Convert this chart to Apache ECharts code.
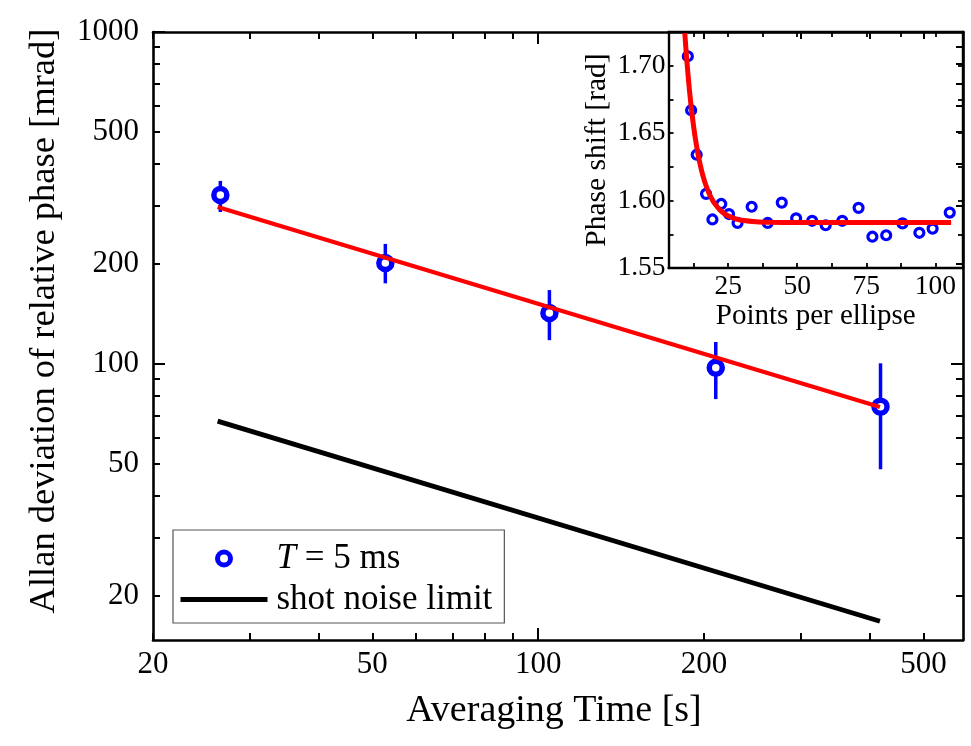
<!DOCTYPE html>
<html>
<head>
<meta charset="utf-8">
<script src="https://cdn.jsdelivr.net/npm/echarts@6/dist/echarts.min.js"></script>
<style>html,body{margin:0;padding:0;background:#fff}#c{width:971px;height:746px}</style>
</head>
<body>
<div id="c"></div>
<script>
// ---- main plot data ----
const avgTime = [26.5, 52.8, 104.8, 210, 418];
const allanDev = [323, 201.5, 142.4, 97.5, 74.4];
const errLow = [287, 175, 118, 78.4, 48.2];
const errHigh = [356, 230, 167, 116.5, 100.5];
const fitTime = [26.2, 417];
const fitDev = [297, 74.2];
const shotTime = [26.2, 417];
const shotDev = [67.3, 16.8];
// ---- main axis ticks ----
const xLabelVals = [20, 50, 100, 200, 500];
const xMinorTicks = [20, 30, 40, 50, 60, 70, 80, 90, 100, 200, 300, 400, 500];
const xMajorTicks = [100];
const yLabelVals = [20, 50, 100, 200, 500, 1000];
const yMinorTicks = [20, 30, 40, 50, 60, 70, 80, 90, 100, 200, 300, 400, 500, 600, 700, 800, 900, 1000];
const yMajorTicks = [100, 1000];
// ---- inset data ----
const ptsPerEllipse = [10.4, 11.6, 13.6, 17.0, 19.3, 22.5, 25.3, 28.4, 33.5, 39.3, 44.4, 49.6, 55.4, 60.3, 66.3, 72.2, 77.2, 82.2, 88.1, 94.2, 99.0, 105.2];
const phaseShift = [1.707, 1.667, 1.634, 1.605, 1.586, 1.5975, 1.590, 1.5834, 1.5954, 1.5834, 1.5985, 1.5868, 1.5850, 1.5817, 1.5850, 1.5946, 1.5732, 1.5743, 1.5831, 1.5761, 1.5792, 1.5911];
const curveX = [9.3, 10, 11, 12, 13, 14, 15, 16, 17, 18, 19, 20, 22, 24, 26, 28, 30, 35, 40, 50, 105.7];
const curveY = [1.7242, 1.7047, 1.6815, 1.6628, 1.6476, 1.6354, 1.6255, 1.6174, 1.6110, 1.6057, 1.6015, 1.5981, 1.5931, 1.5898, 1.5877, 1.5863, 1.5854, 1.5843, 1.5839, 1.5837, 1.5837];
const insetXLabels = [25, 50, 75, 100];
const insetXTicks = [12.5, 25, 37.5, 50, 62.5, 75, 87.5, 100];
const insetYLabels = [1.55, 1.60, 1.65, 1.70];
const insetYTicks = [1.55, 1.575, 1.60, 1.625, 1.65, 1.675, 1.70, 1.725];

const FONT = "'Liberation Serif', 'Times New Roman', serif";
const BLUE = '#0000ff', RED = '#ff0000';

function zip(a, b) { return a.map((v, i) => [v, b[i]]); }

function logAxis(dim, opt) {
  const isX = dim === 'x';
  const base = {
    type: 'log', logBase: 10,
    gridIndex: 0,
    min: isX ? 20 : 14.75,
    max: isX ? 590 : 1000,
    splitLine: { show: false },
    axisLine: { show: opt.line, lineStyle: { color: '#000', width: 2.6 } },
    axisTick: { show: true, inside: true, length: opt.tickLen, customValues: opt.ticks,
      lineStyle: { color: '#000', width: 2 } },
    axisLabel: { show: !!opt.labels, customValues: opt.labels || [], color: '#000',
      fontFamily: FONT, fontSize: 31, margin: isX ? 9 : 14, formatter: v => String(v) },
    position: opt.position,
    z: 5
  };
  if (opt.name) Object.assign(base, opt.name);
  return base;
}

function insetAxis(dim, opt) {
  const isX = dim === 'x';
  const base = {
    type: 'value', gridIndex: 1,
    min: isX ? 3.4 : 1.55,
    max: isX ? 110 : 1.725,
    splitLine: { show: false },
    axisLine: { show: true, lineStyle: { color: '#000', width: 2.4 } },
    axisTick: { show: true, inside: true, length: 5, customValues: isX ? insetXTicks : insetYTicks,
      lineStyle: { color: '#000', width: 1.8 } },
    axisLabel: { show: !!opt.labels, customValues: isX ? insetXLabels : insetYLabels, color: '#000',
      fontFamily: FONT, fontSize: 27.5, margin: isX ? 5 : 3,
      formatter: v => isX ? String(v) : Number(v).toFixed(2) },
    position: opt.position,
    z: 6
  };
  if (opt.name) Object.assign(base, opt.name);
  return base;
}

const chart = echarts.init(document.getElementById('c'), null, { renderer: 'canvas' });

const option = {
  backgroundColor: '#fff',
  animation: false,
  grid: [
    { left: 153, top: 32, right: 8, bottom: 106, outerBoundsMode: 'none', containLabel: false },
    { left: 668.5, top: 32, right: 8, bottom: 478, outerBoundsMode: 'none', containLabel: false,
      show: true, backgroundColor: '#fff', borderWidth: 0, z: 4 }
  ],
  xAxis: [
    logAxis('x', { line: true, tickLen: 7, ticks: xMinorTicks, labels: xLabelVals, position: 'bottom',
      name: { name: 'Averaging Time [s]', nameLocation: 'middle', nameGap: 52,
        nameTextStyle: { fontFamily: FONT, fontSize: 38, color: '#000', padding: [0, 8, 0, 0] } } }),
    logAxis('x', { line: false, tickLen: 12, ticks: xMajorTicks, position: 'bottom' }),
    logAxis('x', { line: true, tickLen: 7, ticks: xMinorTicks, position: 'top' }),
    logAxis('x', { line: false, tickLen: 12, ticks: xMajorTicks, position: 'top' }),
    insetAxis('x', { labels: true, position: 'bottom',
      name: { name: 'Points per ellipse', nameLocation: 'middle', nameGap: 34,
        nameTextStyle: { fontFamily: FONT, fontSize: 29, color: '#000' } } }),
    insetAxis('x', { labels: false, position: 'top' })
  ],
  yAxis: [
    logAxis('y', { line: true, tickLen: 7, ticks: yMinorTicks, labels: yLabelVals, position: 'left',
      name: { name: 'Allan deviation of relative phase [mrad]', nameLocation: 'middle', nameGap: 90,
        nameTextStyle: { fontFamily: FONT, fontSize: 36.5, color: '#000', padding: [0, 0, 0, 30] } } }),
    logAxis('y', { line: false, tickLen: 12, ticks: yMajorTicks, position: 'left' }),
    logAxis('y', { line: true, tickLen: 7, ticks: yMinorTicks, position: 'right' }),
    logAxis('y', { line: false, tickLen: 12, ticks: yMajorTicks, position: 'right' }),
    insetAxis('y', { labels: true, position: 'left',
      name: { name: 'Phase shift [rad]', nameLocation: 'middle', nameGap: 56,
        nameTextStyle: { fontFamily: FONT, fontSize: 29.5, color: '#000' } } }),
    insetAxis('y', { labels: false, position: 'right' })
  ],
  legend: {
    show: true,
    orient: 'vertical',
    left: 173, top: 530,
    padding: [11, 12, 6, 5],
    itemGap: 6,
    itemWidth: 87, itemHeight: 13,
    borderColor: '#555', borderWidth: 1.2, backgroundColor: '#fff',
    data: [
      { name: 'T = 5 ms', itemStyle: { color: '#fff', borderColor: BLUE, borderWidth: 5 } },
      { name: 'shot noise limit', itemStyle: { opacity: 0 }, lineStyle: { color: '#000', width: 5 } }
    ],
    formatter: n => n === 'T = 5 ms' ? '{i|T} = 5 ms' : n,
    textStyle: {
      fontFamily: FONT, fontSize: 35, color: '#000', padding: [0, 0, 0, 4],
      rich: { i: { fontFamily: FONT, fontSize: 35, fontStyle: 'italic', color: '#000' } }
    },
    z: 10
  },
  series: [
    {
      type: 'custom', name: 'errors', xAxisIndex: 0, yAxisIndex: 0, z: 2,
      data: avgTime.map((t, i) => [t, errLow[i], errHigh[i]]),
      encode: { x: 0, y: [1, 2] },
      renderItem: function (params, api) {
        const x = api.value(0);
        const p1 = api.coord([x, api.value(1)]);
        const p2 = api.coord([x, api.value(2)]);
        return { type: 'line', shape: { x1: p1[0], y1: p1[1], x2: p2[0], y2: p2[1] },
          style: { stroke: BLUE, lineWidth: 3.5 } };
      }
    },
    {
      type: 'scatter', name: 'T = 5 ms', xAxisIndex: 0, yAxisIndex: 0, z: 3,
      data: zip(avgTime, allanDev), symbol: 'circle', symbolSize: 13,
      itemStyle: { color: '#fff', borderColor: BLUE, borderWidth: 5.5, opacity: 1 }
    },
    {
      type: 'line', name: 'fit', xAxisIndex: 0, yAxisIndex: 0, z: 4,
      data: zip(fitTime, fitDev), symbol: 'none',
      lineStyle: { color: RED, width: 4.2 }
    },
    {
      type: 'line', name: 'shot noise limit', xAxisIndex: 0, yAxisIndex: 0, z: 4,
      data: zip(shotTime, shotDev), symbol: 'none', color: '#000',
      itemStyle: { color: '#000' },
      lineStyle: { color: '#000', width: 4.8 }
    },
    {
      type: 'scatter', name: 'inset points', xAxisIndex: 4, yAxisIndex: 4, z: 7,
      data: zip(ptsPerEllipse, phaseShift), symbol: 'circle', symbolSize: 9,
      itemStyle: { color: '#fff', borderColor: BLUE, borderWidth: 3.2, opacity: 1 }
    },
    {
      type: 'line', name: 'inset fit', xAxisIndex: 4, yAxisIndex: 4, z: 8,
      data: zip(curveX, curveY), symbol: 'none', smooth: 0.3,
      lineStyle: { color: RED, width: 5 }, clip: true
    }
  ]
};
chart.setOption(option);
</script>
</body>
</html>
